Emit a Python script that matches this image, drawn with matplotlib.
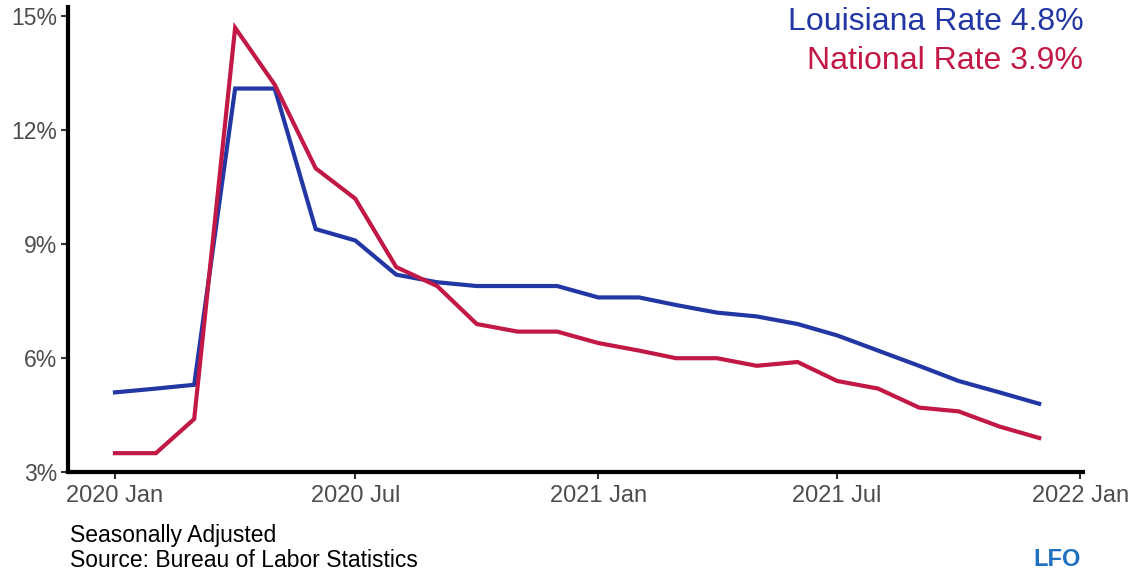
import matplotlib
matplotlib.use('Agg')
import numpy as np
import pandas as pd
from matplotlib import pyplot as plt
import matplotlib.dates as mdates

plt.rcParams['font.family'] = ['Liberation Sans', 'DejaVu Sans']

months = pd.date_range('2020-01-01', '2021-12-01', freq='MS')
louisiana = [5.1, 5.2, 5.3, 13.1, 13.1, 9.4, 9.1, 8.2, 8.0, 7.9, 7.9, 7.9,
             7.6, 7.6, 7.4, 7.2, 7.1, 6.9, 6.6, 6.2, 5.8, 5.4, 5.1, 4.8]
national = [3.5, 3.5, 4.4, 14.7, 13.2, 11.0, 10.2, 8.4, 7.9, 6.9, 6.7, 6.7,
            6.4, 6.2, 6.0, 6.0, 5.8, 5.9, 5.4, 5.2, 4.7, 4.6, 4.2, 3.9]
yticks = [3, 6, 9, 12, 15]
xticks = pd.to_datetime(['2020-01-01', '2020-07-01', '2021-01-01', '2021-07-01', '2022-01-01'])
xlabels = ['2020 Jan', '2020 Jul', '2021 Jan', '2021 Jul', '2022 Jan']

blue = '#2237a3'
red = '#c21845'

fig = plt.figure(figsize=(11.33, 5.73), dpi=100)
ax = fig.add_axes([0.060, 0.176, 0.896, 0.812])

ax.plot(months, louisiana, color=blue, lw=3, solid_joinstyle='miter')
ax.plot(months, national, color=red, lw=3, solid_joinstyle='miter')

ax.set_xlim(pd.Timestamp('2020-01-01') - pd.Timedelta(days=35.6),
            pd.Timestamp('2022-01-01') + pd.Timedelta(days=2.3))
ax.set_ylim(3, 15.25)
ax.set_yticks(yticks)
ax.set_yticklabels([f'{v}%' for v in yticks])
ax.set_xticks(xticks)
ax.set_xticklabels(xlabels)

for s in ['top', 'right']:
    ax.spines[s].set_visible(False)
for s in ['left', 'bottom']:
    ax.spines[s].set_linewidth(3)
    ax.spines[s].set_color('black')
ax.tick_params(axis='both', direction='out', length=5, width=1.5, color='#333333',
               labelcolor='#4d4d4d')
ax.tick_params(axis='x', labelsize=17, pad=4)
ax.tick_params(axis='y', labelsize=16.5, pad=3)

ax.text(1.0, 1.0, 'Louisiana Rate 4.8%', transform=ax.transAxes, ha='right', va='top',
        color=blue, fontsize=23)
ax.text(1.0, 0.915, 'National Rate 3.9%', transform=ax.transAxes, ha='right', va='top',
        color=red, fontsize=23)

fig.text(0.062, 0.085, 'Seasonally Adjusted\nSource: Bureau of Labor Statistics',
         ha='left', va='top', fontsize=16.5, color='black', linespacing=1.1)
fig.text(0.912, 0.003, 'LFO', ha='left', va='bottom', fontsize=17, color='#1f6fc0',
         fontweight='bold')

fig.savefig('out.png', dpi=100)
